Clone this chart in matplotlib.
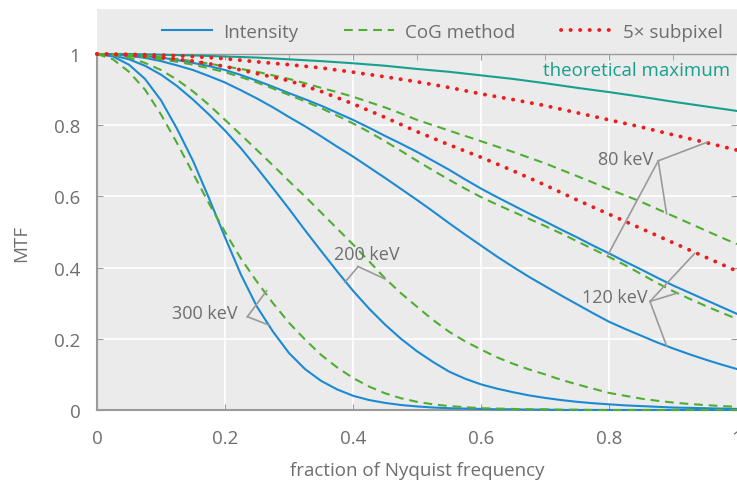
import matplotlib
matplotlib.use("Agg")
import matplotlib.pyplot as plt
from matplotlib.patches import Rectangle
from matplotlib.ticker import MultipleLocator

# ── colours ───────────────────────────────────────────────────────────────────
BG     = "#EBEBEB"
TXT    = "#6E6E6E"
AXC    = "#9A9A9A"
BLUE   = "#1C8AD2"
GREEN  = "#4FAE32"
RED    = "#EE1C1C"
TEAL   = "#17A08E"

plt.rcParams["font.family"] = ["Open Sans", "DejaVu Sans"]

# ── data ──────────────────────────────────────────────────────────────────────
# coarse grid for the gentle curves, fine grid for the measured ones
freq_c = [0.0, 0.05, 0.1, 0.15, 0.2, 0.25, 0.3, 0.35, 0.4, 0.45, 0.5,
          0.55, 0.6, 0.65, 0.7, 0.75, 0.8, 0.85, 0.9, 0.95, 1.0]
freq_f = [0.0, 0.025, 0.05, 0.075, 0.1, 0.125, 0.15, 0.175, 0.2, 0.225,
          0.25, 0.275, 0.3, 0.325, 0.35, 0.375, 0.4, 0.425, 0.45, 0.475,
          0.5, 0.525, 0.55, 0.575, 0.6, 0.625, 0.65, 0.675, 0.7, 0.725,
          0.75, 0.775, 0.8, 0.825, 0.85, 0.875, 0.9, 0.925, 0.95, 0.975, 1.0]

theory = [1.0, 1.0, 0.998, 0.996, 0.993, 0.99, 0.985, 0.98, 0.974, 0.967, 0.958,
          0.95, 0.94, 0.93, 0.918, 0.905, 0.893, 0.88, 0.866, 0.853, 0.84]

# 5x subpixel (dotted)
sub_80  = [1.0, 0.999, 0.997, 0.993, 0.987, 0.978, 0.97, 0.961, 0.949, 0.936, 0.922,
           0.906, 0.888, 0.872, 0.855, 0.835, 0.815, 0.795, 0.773, 0.752, 0.73]
sub_120 = [1.0, 0.997, 0.99, 0.98, 0.965, 0.945, 0.925, 0.895, 0.86, 0.822, 0.782,
           0.745, 0.71, 0.672, 0.632, 0.59, 0.55, 0.51, 0.47, 0.43, 0.39]

# intensity (solid)
int_80  = [1.0, 0.999, 0.997, 0.994, 0.99, 0.983, 0.975, 0.966, 0.955, 0.941,
           0.925, 0.908, 0.89, 0.873, 0.855, 0.835, 0.815, 0.793, 0.77, 0.748,
           0.725, 0.70, 0.675, 0.648, 0.622, 0.598, 0.575, 0.552, 0.53, 0.507,
           0.485, 0.462, 0.44, 0.417, 0.395, 0.372, 0.35, 0.33, 0.31, 0.29, 0.27]
int_120 = [1.0, 0.999, 0.995, 0.989, 0.98, 0.968, 0.955, 0.938, 0.92, 0.898,
           0.875, 0.85, 0.823, 0.797, 0.769, 0.74, 0.712, 0.682, 0.652, 0.621,
           0.59, 0.558, 0.525, 0.493, 0.462, 0.431, 0.402, 0.374, 0.348, 0.322,
           0.297, 0.272, 0.248, 0.228, 0.209, 0.19, 0.173, 0.157, 0.142, 0.128, 0.115]
int_200 = [1.0, 0.996, 0.985, 0.967, 0.942, 0.91, 0.872, 0.83, 0.785, 0.735,
           0.68, 0.623, 0.565, 0.505, 0.447, 0.39, 0.335, 0.285, 0.24, 0.20,
           0.165, 0.135, 0.108, 0.088, 0.072, 0.06, 0.05, 0.041, 0.034, 0.028,
           0.023, 0.019, 0.016, 0.013, 0.011, 0.009, 0.007, 0.006, 0.005, 0.004, 0.003]
int_300 = [1.0, 0.993, 0.97, 0.93, 0.87, 0.79, 0.70, 0.595, 0.485, 0.38,
           0.29, 0.22, 0.16, 0.115, 0.082, 0.058, 0.04, 0.028, 0.02, 0.014,
           0.01, 0.007, 0.005, 0.004, 0.003, 0.002, 0.002, 0.001, 0.001, 0.0,
           0.0, 0.0, 0.0, 0.0, 0.0, 0.0, 0.0, 0.0, 0.0, 0.0, 0.0]

# centre-of-gravity method (dashed)
cog_80  = [1.0, 1.0, 0.998, 0.995, 0.99, 0.986, 0.98, 0.973, 0.965, 0.958,
           0.95, 0.94, 0.93, 0.918, 0.905, 0.893, 0.88, 0.865, 0.85, 0.833,
           0.815, 0.80, 0.785, 0.77, 0.755, 0.74, 0.725, 0.709, 0.693, 0.675,
           0.657, 0.639, 0.62, 0.603, 0.585, 0.565, 0.545, 0.525, 0.505, 0.485, 0.466]
cog_120 = [1.0, 0.998, 0.995, 0.991, 0.985, 0.978, 0.97, 0.96, 0.949, 0.935,
           0.92, 0.903, 0.885, 0.867, 0.848, 0.827, 0.805, 0.781, 0.755, 0.728,
           0.70, 0.673, 0.647, 0.622, 0.598, 0.577, 0.557, 0.537, 0.517, 0.496,
           0.474, 0.452, 0.43, 0.407, 0.382, 0.357, 0.334, 0.313, 0.293, 0.274, 0.256]
cog_200 = [1.0, 0.997, 0.99, 0.975, 0.955, 0.928, 0.895, 0.857, 0.815, 0.773,
           0.73, 0.687, 0.643, 0.60, 0.555, 0.51, 0.465, 0.418, 0.37, 0.328,
           0.29, 0.253, 0.22, 0.193, 0.17, 0.148, 0.13, 0.114, 0.10, 0.085,
           0.072, 0.06, 0.048, 0.04, 0.032, 0.026, 0.021, 0.017, 0.014, 0.011, 0.009]
cog_300 = [1.0, 0.985, 0.95, 0.90, 0.83, 0.75, 0.665, 0.58, 0.50, 0.425,
           0.36, 0.30, 0.245, 0.198, 0.155, 0.12, 0.09, 0.066, 0.047, 0.033,
           0.023, 0.016, 0.011, 0.008, 0.005, 0.004, 0.003, 0.002, 0.002, 0.001,
           0.001, 0.0, 0.0, 0.0, 0.0, 0.0, 0.0, 0.0, 0.0, 0.0, 0.0]

# annotation leaders: label, text pos (right edge), vertex, end points on curves
labels = ["80 keV", "120 keV", "200 keV", "300 keV"]
label_xy = [(0.869, 0.705), (0.861, 0.317), (0.473, 0.437), (0.22, 0.272)]
vertex_xy = [(0.877, 0.700), (0.864, 0.305), (0.408, 0.403), (0.235, 0.262)]
leader_ends = [
    [(0.953, 0.752), (0.890, 0.551), (0.799, 0.438)],
    [(0.934, 0.440), (0.906, 0.328), (0.890, 0.180)],
    [(0.3875, 0.359), (0.450, 0.368)],
    [(0.265, 0.335), (0.268, 0.239)],
]

# ── figure ────────────────────────────────────────────────────────────────────
fig = plt.figure(figsize=(7.37, 4.85), dpi=100, facecolor="white")
ax = fig.add_axes([97 / 737, 74 / 485, 640 / 737, 356 / 485])
ax.set_facecolor(BG)

# grey band above the box, holds the legend
ax.add_patch(Rectangle((0, 1), 1, 0.126, transform=ax.transAxes, fc=BG,
                       ec="none", clip_on=False, zorder=0))

ax.set_xlim(0, 1)
ax.set_ylim(0, 1)
ax.grid(True, color="white", linewidth=1.2)
ax.set_axisbelow(True)

dash = (0, (4.2, 2.8))
dots = (0, (0.05, 2.4))

ax.plot(freq_c, theory, color=TEAL, lw=1.5, clip_on=False, zorder=3)
for ys in [int_80, int_120, int_200, int_300]:
    ax.plot(freq_f, ys, color=BLUE, lw=1.5, clip_on=False, zorder=3)
for ys in [cog_80, cog_120, cog_200, cog_300]:
    ax.plot(freq_f, ys, color=GREEN, lw=1.5, ls=dash, clip_on=False, zorder=3)
for ys in [sub_80, sub_120]:
    ax.plot(freq_c, ys, color=RED, lw=2.8, ls=dots, dash_capstyle="round",
            clip_on=False, zorder=4)

# legend proxies
h1, = ax.plot([], [], color=BLUE, lw=1.5)
h2, = ax.plot([], [], color=GREEN, lw=1.5, ls=dash)
h3, = ax.plot([], [], color=RED, lw=2.8, ls=dots, dash_capstyle="round")
leg = ax.legend([h1, h2, h3], ["Intensity", "CoG method", "5× subpixel"],
                ncol=3, loc="center right", bbox_to_anchor=(0.977, 1.062),
                frameon=False, fontsize=13.5, handlelength=2.7,
                handletextpad=0.6, columnspacing=2.4, borderpad=0,
                borderaxespad=0)
for t in leg.get_texts():
    t.set_color(TXT)

ax.text(0.99, 0.955, "theoretical maximum", color=TEAL, fontsize=13.5,
        ha="right", va="center")

for lbl, (tx, ty), (vx, vy), ends in zip(labels, label_xy, vertex_xy, leader_ends):
    ax.text(tx, ty, lbl, color=TXT, fontsize=13, ha="right", va="center",
            zorder=5)
    for ex, ey in ends:
        ax.plot([vx, ex], [vy, ey], color=AXC, lw=1.2, zorder=5)

# ── axes cosmetics ────────────────────────────────────────────────────────────
for side in ["left", "bottom", "top", "right"]:
    ax.spines[side].set_color(AXC)
ax.spines["left"].set_linewidth(1.5)
ax.spines["bottom"].set_linewidth(1.5)
ax.spines["top"].set_linewidth(1.0)
ax.spines["right"].set_visible(False)

ax.set_xticks([0, 0.2, 0.4, 0.6, 0.8, 1.0])
ax.set_xticklabels(["0", "0.2", "0.4", "0.6", "0.8", "1"])
ax.set_yticks([0, 0.2, 0.4, 0.6, 0.8, 1.0])
ax.set_yticklabels(["0", "0.2", "0.4", "0.6", "0.8", "1"])
ax.xaxis.set_minor_locator(MultipleLocator(0.1))
ax.tick_params(which="major", direction="in", length=4, color=AXC,
               labelcolor=TXT, labelsize=13.5, top=True, right=True)
ax.tick_params(which="minor", direction="in", length=4, color=AXC,
               bottom=False, top=True)
ax.tick_params(axis="x", pad=14)
ax.tick_params(axis="y", pad=12)

ax.set_xlabel("fraction of Nyquist frequency", color=TXT, fontsize=13.5,
              labelpad=10)
ax.set_ylabel("MTF", color=TXT, fontsize=13.5)
ax.yaxis.set_label_coords(-0.104, 0.472)

fig.savefig("out.png", dpi=100, facecolor="white")
